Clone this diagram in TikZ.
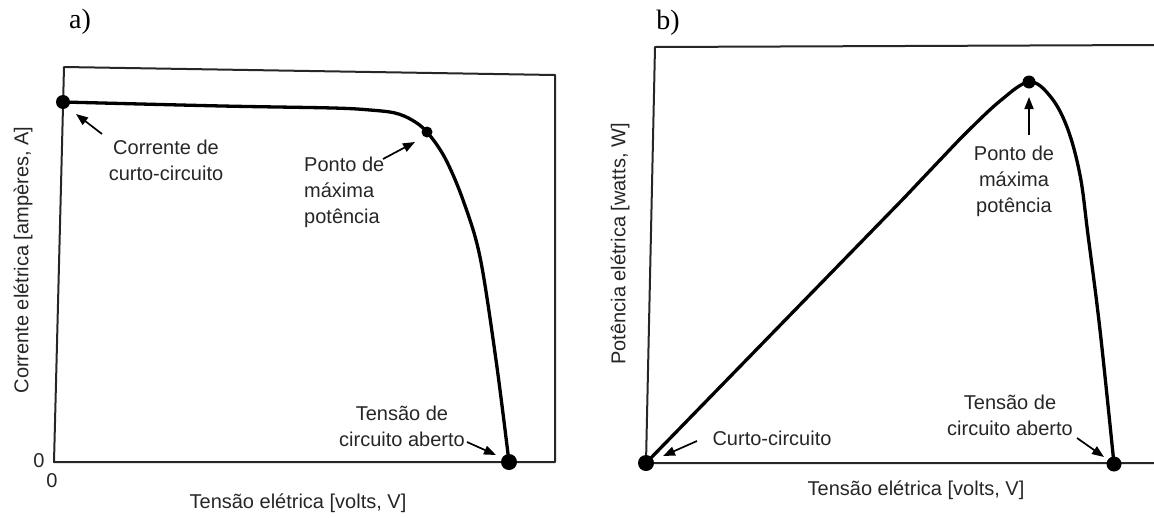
\documentclass[tikz,border=0pt]{standalone}
\usepackage{fontspec}
\setmainfont{Liberation Sans}
\newfontfamily\labfont{Liberation Serif}
\usetikzlibrary{arrows.meta}
\begin{document}
\begin{tikzpicture}[x=1pt,y=-1pt,
  axis/.style={line width=2pt, black!85, line join=round},
  curve/.style={line width=3.3pt, black},
  dot/.style={circle, fill=black, inner sep=0pt, minimum size=#1},
  lbl/.style={font=\fontsize{20}{26}\selectfont, align=center, inner sep=0pt, text=black!85},
  panel/.style={font=\labfont\fontsize{28}{30}\selectfont, inner sep=0pt},
  arr/.style={line width=1.7pt, -{Triangle[length=12pt,width=9pt]}}]
\useasboundingbox (0,0) rectangle (1154,517);

% ---------- panel a ----------
\node[panel] (pa) at (80,22) {a)};
\coordinate (atl) at (64,67);
\coordinate (atr) at (555,75);
\coordinate (abr) at (555,462);
\coordinate (abl) at (54,462);
\draw[axis] (atl) -- (atr) -- (abr) -- (abl) -- cycle;

\node[dot=14pt] (asc) at (63,102) {};
\node[dot=11pt] (ampp) at (427,132) {};
\node[dot=16pt] (aoc) at (509,462) {};

\draw[curve] plot[smooth, tension=0.55] coordinates {(63,102) (222,106) (333,108) (370,110) (395,113) (412,120) (427,132) (445,158) (463,200) (480,257) (496,360) (509,462)};

\node[lbl] (ay0) at (39,461) {0};
\node[lbl] (ax0) at (52,481) {0};
\node[lbl] (axl) at (298,503) {Tensão elétrica [volts, V]};
\node[lbl, rotate=90] (ayl) at (23,260) {Corrente elétrica [ampères, A]};

\node[lbl] (tsc) at (166,160) {Corrente de\\curto-circuito};
\node[lbl, align=left, anchor=west] (tmp) at (304,192) {Ponto de\\máxima\\potência};
\node[lbl] (toc) at (402,426) {Tensão de\\circuito aberto};

\coordinate (a1s) at (102,134);
\coordinate (a1e) at (76,114);
\coordinate (a2s) at (383,159);
\coordinate (a2e) at (415,142);
\coordinate (a3s) at (467,442);
\coordinate (a3e) at (496,455);
\draw[arr] (a1s) -- (a1e);
\draw[arr] (a2s) -- (a2e);
\draw[arr] (a3s) -- (a3e);

% ---------- panel b ----------
\node[panel] (pb) at (668,23) {b)};
\coordinate (btr) at (1154,45);
\coordinate (btl) at (655,47);
\coordinate (bbl) at (646,463);
\coordinate (bbr) at (1154,463);
\draw[axis] (btr) -- (btl) -- (bbl) -- (bbr);

\node[dot=16pt] (bor) at (646,463) {};
\node[dot=13pt] (bmpp) at (1029,82) {};
\node[dot=15pt] (boc) at (1114,464) {};

\draw[curve] (bor.center) -- (905,197)
  plot[smooth, tension=0.6] coordinates {(905,197) (940,160) (967,132) (1000,101) (1029,82) (1050,96) (1067,127) (1080,175) (1088,235) (1100,330) (1114,464)};

\node[lbl] (bxl) at (916,490) {Tensão elétrica [volts, V]};
\node[lbl, rotate=90] (byl) at (620,244) {Potência elétrica [watts, W]};

\node[lbl] (tbsc) at (772,438) {Curto-circuito};
\node[lbl] (tbmp) at (1014,181) {Ponto de\\máxima\\potência};
\node[lbl] (tboc) at (1010,415) {Tensão de\\circuito aberto};

\coordinate (b1s) at (697,441);
\coordinate (b1e) at (663,456);
\coordinate (b2s) at (1029,135);
\coordinate (b2e) at (1029,97);
\coordinate (b3s) at (1077,438);
\coordinate (b3e) at (1104,457);
\draw[arr] (b1s) -- (b1e);
\draw[arr] (b2s) -- (b2e);
\draw[arr] (b3s) -- (b3e);
\end{tikzpicture}
\end{document}
